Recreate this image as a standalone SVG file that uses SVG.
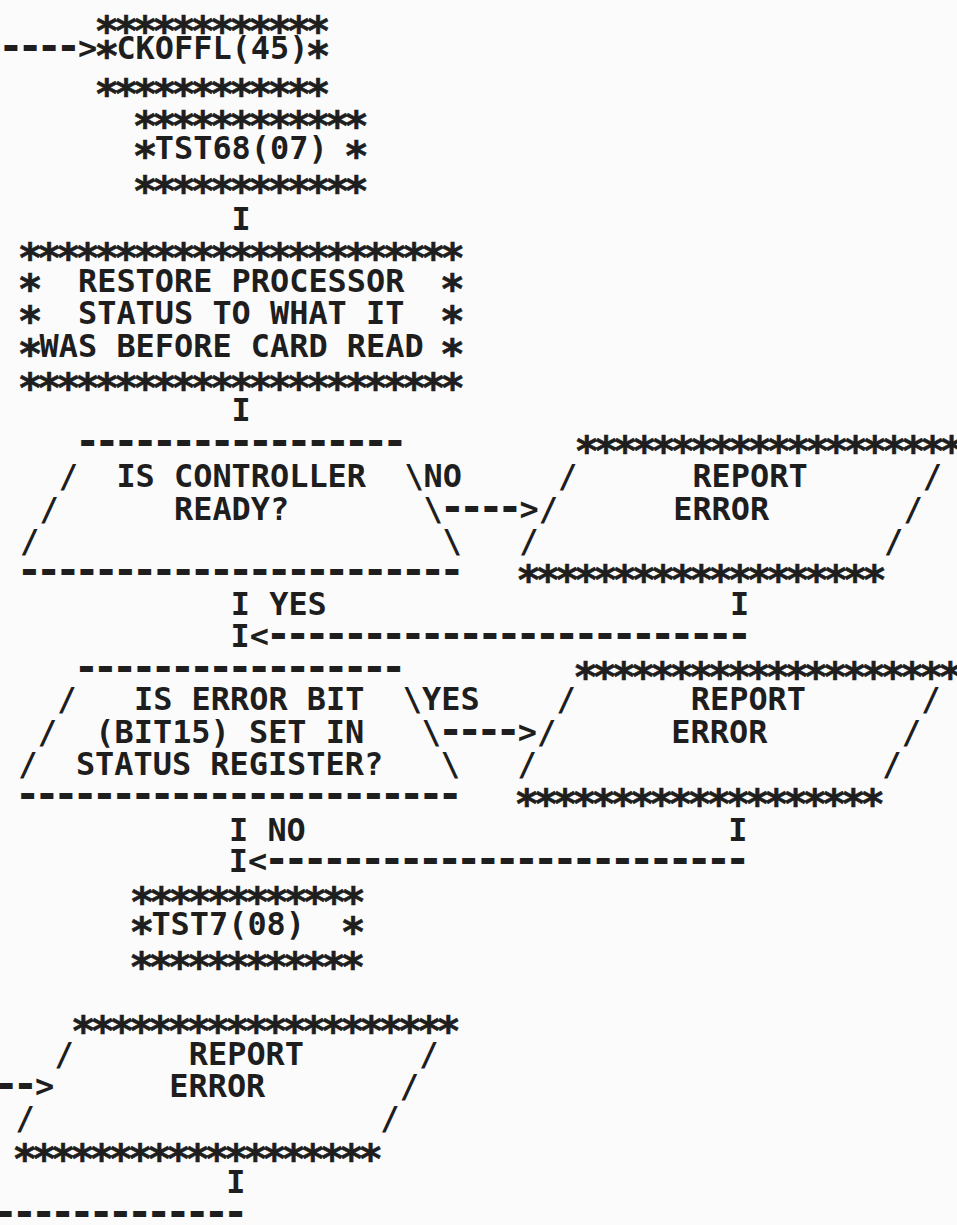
<svg xmlns="http://www.w3.org/2000/svg" width="957" height="1225" viewBox="0 0 957 1225">
<style>
text{font-family:"DejaVu Sans Mono","Liberation Mono",monospace;font-weight:bold;font-size:31.9px;fill:#1e1e1e;white-space:pre}
.a{font-size:41px;letter-spacing:-5.48px;stroke:#1e1e1e;stroke-width:0.6px}
.d{font-size:42px;letter-spacing:-6.08px}
</style>
<rect width="957" height="1225" fill="#fbfbfb"/>
<g id="connectors">
<text><tspan class="d" x="-1.84" y="59.6">----</tspan><tspan x="78" y="58.6">&gt;</tspan></text>
<text x="231.6" y="229.6">I</text>
<text x="231.6" y="420.6">I</text>
<text x="423.6" y="486.6">NO</text>
<text><tspan class="d" x="439.76" y="520.6">----</tspan><tspan x="519.6" y="519.6">&gt;</tspan></text>
<text><tspan x="230.8" y="614.6">I</tspan><tspan x="269.2" y="614.6">YES</tspan></text>
<text x="730" y="614.6">I</text>
<text><tspan x="230.5" y="646.6">I</tspan><tspan x="249.7" y="646.6">&lt;</tspan><tspan class="d" x="265.86" y="647.6">-------------------------</tspan></text>
<text x="422" y="709.6">YES</text>
<text><tspan class="d" x="437.91" y="743.6">----</tspan><tspan x="517.75" y="742.6">&gt;</tspan></text>
<text><tspan x="229" y="840.6">I</tspan><tspan x="267.4" y="840.6">NO</tspan></text>
<text x="728.2" y="840.6">I</text>
<text><tspan x="228.7" y="871.6">I</tspan><tspan x="247.9" y="871.6">&lt;</tspan><tspan class="d" x="264.06" y="872.6">-------------------------</tspan></text>
<text><tspan class="d" x="-6.54" y="1097.6">--</tspan><tspan x="34.9" y="1096.6">&gt;</tspan></text>
<text x="226.15" y="1192.6">I</text>
<text class="d" x="-7.54" y="1225.6">-------------</text>
</g>
<g id="node-ckoffl">
<text class="a" x="94.46" y="44.96">************</text>
<text><tspan class="a" x="94.46" y="69.96">*</tspan><tspan x="116.4" y="58.6">CKOFFL(45)</tspan><tspan class="a" x="305.66" y="69.96">*</tspan></text>
<text class="a" x="94.46" y="107.96">************</text>
</g>
<g id="node-tst68">
<text class="a" x="132.86" y="139.96">************</text>
<text><tspan class="a" x="132.86" y="169.96">*</tspan><tspan x="154.8" y="158.6">TST68(07)</tspan><tspan class="a" x="344.06" y="169.96">*</tspan></text>
<text class="a" x="132.86" y="204.96">************</text>
</g>
<g id="node-restore">
<text class="a" x="17.66" y="271.96">***********************</text>
<text><tspan class="a" x="17.66" y="302.96">*</tspan><tspan x="78" y="291.6">RESTORE PROCESSOR</tspan><tspan class="a" x="440.06" y="302.96">*</tspan></text>
<text><tspan class="a" x="17.66" y="334.96">*</tspan><tspan x="78" y="323.6">STATUS TO WHAT IT</tspan><tspan class="a" x="440.06" y="334.96">*</tspan></text>
<text><tspan class="a" x="17.66" y="367.96">*</tspan><tspan x="39.6" y="356.6">WAS BEFORE CARD READ</tspan><tspan class="a" x="440.06" y="367.96">*</tspan></text>
<text class="a" x="17.66" y="401.96">***********************</text>
</g>
<g id="node-decision-controller">
<text class="d" x="74.96" y="454.6">-----------------</text>
<text><tspan x="58.8" y="486.6">/</tspan><tspan x="116.4" y="486.6">IS CONTROLLER</tspan><tspan x="404.4" y="486.6">\</tspan></text>
<text><tspan x="39.6" y="519.6">/</tspan><tspan x="174" y="519.6">READY?</tspan><tspan x="423.6" y="519.6">\</tspan></text>
<text><tspan x="20.1" y="551.6">/</tspan><tspan x="442.5" y="551.6">\</tspan></text>
<text class="d" x="16.76" y="583.6">-----------------------</text>
</g>
<g id="node-report-error-1">
<text class="a" x="574.46" y="464.96">********************</text>
<text><tspan x="558" y="486.6">/</tspan><tspan x="692.4" y="486.6">REPORT</tspan><tspan x="922.8" y="486.6">/</tspan></text>
<text><tspan x="538.8" y="519.6">/</tspan><tspan x="673.2" y="519.6">ERROR</tspan><tspan x="903.6" y="519.6">/</tspan></text>
<text><tspan x="519.3" y="551.6">/</tspan><tspan x="884.1" y="551.6">/</tspan></text>
<text class="a" x="516.26" y="593.96">*******************</text>
</g>
<g id="node-decision-errorbit">
<text class="d" x="73.66" y="680.6">-----------------</text>
<text><tspan x="57.2" y="709.6">/</tspan><tspan x="134" y="709.6">IS ERROR BIT</tspan><tspan x="402.8" y="709.6">\</tspan></text>
<text><tspan x="37.75" y="742.6">/</tspan><tspan x="95.35" y="742.6">(BIT15) SET IN</tspan><tspan x="421.75" y="742.6">\</tspan></text>
<text><tspan x="18.3" y="774.6">/</tspan><tspan x="75.9" y="774.6">STATUS REGISTER?</tspan><tspan x="440.7" y="774.6">\</tspan></text>
<text class="d" x="14.96" y="807.6">-----------------------</text>
</g>
<g id="node-report-error-2">
<text class="a" x="573.16" y="690.96">********************</text>
<text><tspan x="556.4" y="709.6">/</tspan><tspan x="690.8" y="709.6">REPORT</tspan><tspan x="921.2" y="709.6">/</tspan></text>
<text><tspan x="536.95" y="742.6">/</tspan><tspan x="671.35" y="742.6">ERROR</tspan><tspan x="901.75" y="742.6">/</tspan></text>
<text><tspan x="517.5" y="774.6">/</tspan><tspan x="882.3" y="774.6">/</tspan></text>
<text class="a" x="514.46" y="817.96">*******************</text>
</g>
<g id="node-tst7">
<text class="a" x="129.76" y="915.96">************</text>
<text><tspan class="a" x="129.46" y="945.96">*</tspan><tspan x="151.4" y="934.6">TST7(08)</tspan><tspan class="a" x="340.66" y="945.96">*</tspan></text>
<text class="a" x="129.16" y="980.96">************</text>
</g>
<g id="node-report-error-3">
<text class="a" x="71.06" y="1044.96">********************</text>
<text><tspan x="54.4" y="1064.6">/</tspan><tspan x="188.8" y="1064.6">REPORT</tspan><tspan x="419.2" y="1064.6">/</tspan></text>
<text><tspan x="169.3" y="1096.6">ERROR</tspan><tspan x="399.7" y="1096.6">/</tspan></text>
<text><tspan x="15.5" y="1128.6">/</tspan><tspan x="380.3" y="1128.6">/</tspan></text>
<text class="a" x="12.46" y="1172.96">*******************</text>
</g>
</svg>
